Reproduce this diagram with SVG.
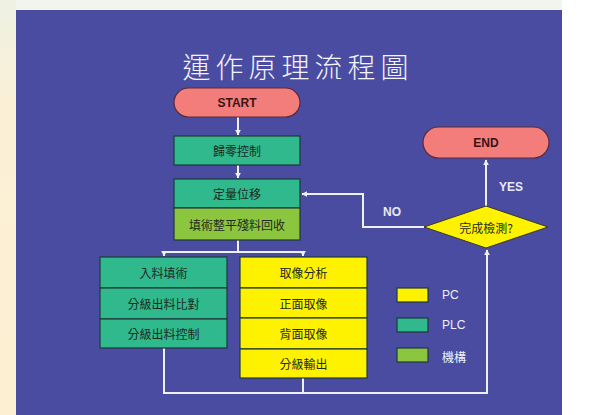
<svg xmlns="http://www.w3.org/2000/svg" width="602" height="415" viewBox="0 0 602 415">
<defs>
<linearGradient id="lg" x1="0" y1="0" x2="0" y2="1">
<stop offset="0" stop-color="#eef2e4"/>
<stop offset="0.25" stop-color="#fbf0d6"/>
<stop offset="1" stop-color="#fdefd2"/>
</linearGradient>
<linearGradient id="rg" x1="0" y1="0" x2="1" y2="0">
<stop offset="0" stop-color="#f4f8fa"/>
<stop offset="1" stop-color="#ffffff"/>
</linearGradient>
<marker id="ah" viewBox="0 0 10 10" refX="9" refY="5" markerWidth="3" markerHeight="3" orient="auto" markerUnits="strokeWidth">
<path d="M0,0 L10,5 L0,10 z" fill="#eef0f6"/>
</marker>
<style>
.box{stroke:#1e3a3a;stroke-width:1.2}
.g{fill:#2fb98c}
.y{fill:#fff200}
.lg{fill:#8cc63f}
.pill{fill:#f27d7b;stroke:#5a2a3a;stroke-width:1.2}
.cjk{font-family:"Noto Sans CJK TC","Noto Sans CJK SC",sans-serif;font-size:12px;fill:#1e2a1e;text-anchor:middle;dominant-baseline:central}
.lat{font-family:"Liberation Sans",Arial,sans-serif;font-weight:bold;font-size:12px;text-anchor:middle;dominant-baseline:central}
.wt{fill:#e8eaf4}
.ln{fill:none;stroke:#eef0f6;stroke-width:2}
</style>
</defs>
<rect x="0" y="0" width="602" height="415" fill="url(#rg)"/>
<rect x="0" y="0" width="16" height="415" fill="url(#lg)"/>
<rect x="16" y="0" width="546" height="10" fill="#f2f5ee"/>
<rect x="16" y="10" width="546" height="405" fill="#4a4ca2"/>
<text x="298" y="66" font-family="Noto Sans CJK TC,Noto Sans CJK SC,sans-serif" font-size="28" font-weight="300" fill="#f4f4fa" text-anchor="middle" dominant-baseline="central" letter-spacing="5">運作原理流程圖</text>

<g id="connectors">
<line class="ln" x1="238" y1="117" x2="238" y2="135" marker-end="url(#ah)"/>
<line class="ln" x1="238" y1="165" x2="238" y2="178" marker-end="url(#ah)"/>
<polyline class="ln" points="424,227 363,227 363,194 302,194" marker-end="url(#ah)"/>
<line class="ln" x1="486" y1="206" x2="486" y2="160" marker-end="url(#ah)"/>
<polyline class="ln" points="238,240 238,252 164,252 164,256" marker-end="url(#ah)"/>
<polyline class="ln" points="238,252 303,252 303,256" marker-end="url(#ah)"/>
<polyline class="ln" points="164,348 164,393 487,393 487,250" marker-end="url(#ah)"/>
<line class="ln" x1="303" y1="378" x2="303" y2="393"/>
<text class="lat wt" x="392" y="212">NO</text>
<text class="lat wt" x="511" y="187">YES</text>
</g>

<g id="start">
<rect class="pill" x="174" y="88" width="126" height="29" rx="14.5"/>
<text class="lat" x="237" y="102.5" fill="#3a1414">START</text>
</g>
<g id="zero">
<rect class="box g" x="174" y="136" width="126" height="29"/>
<text class="cjk" x="237" y="150.5">歸零控制</text>
</g>
<g id="shift">
<rect class="box g" x="174" y="179" width="126" height="29"/>
<text class="cjk" x="237" y="193.5">定量位移</text>
</g>
<g id="fill">
<rect class="box lg" x="174" y="208" width="126" height="32"/>
<text class="cjk" x="237" y="224">填術整平殘料回收</text>
</g>
<g id="end">
<rect class="pill" x="423" y="127" width="126" height="31" rx="15.5"/>
<text class="lat" x="486" y="142.5" fill="#3a1414">END</text>
</g>
<g id="check">
<polygon points="486,206 548,227 486,248 424,227" fill="#fff200" stroke="#3a3a20" stroke-width="1"/>
<text class="cjk" x="486" y="227">完成檢測?</text>
</g>
<g id="plc-col">
<rect class="box g" x="100" y="257" width="127" height="31"/>
<rect class="box g" x="100" y="288" width="127" height="31"/>
<rect class="box g" x="100" y="319" width="127" height="29"/>
<text class="cjk" x="163.5" y="272.5">入料填術</text>
<text class="cjk" x="163.5" y="303.5">分級出料比對</text>
<text class="cjk" x="163.5" y="333.5">分級出料控制</text>
</g>
<g id="pc-col">
<rect class="box y" x="240" y="257" width="127" height="31"/>
<rect class="box y" x="240" y="288" width="127" height="30"/>
<rect class="box y" x="240" y="318" width="127" height="31"/>
<rect class="box y" x="240" y="349" width="127" height="29"/>
<text class="cjk" x="303.5" y="272.5">取像分析</text>
<text class="cjk" x="303.5" y="303">正面取像</text>
<text class="cjk" x="303.5" y="333.5">背面取像</text>
<text class="cjk" x="303.5" y="363.5">分級輸出</text>
</g>
<g id="legend">
<rect class="box y" x="397" y="288" width="31" height="14"/>
<rect class="box g" x="397" y="318" width="31" height="14"/>
<rect class="box lg" x="397" y="348" width="31" height="14"/>
<text x="442" y="295" font-family="Liberation Sans,Arial,sans-serif" font-size="12" fill="#eef0f8" dominant-baseline="central">PC</text>
<text x="442" y="325" font-family="Liberation Sans,Arial,sans-serif" font-size="12" fill="#eef0f8" dominant-baseline="central">PLC</text>
<text x="442" y="356" font-family="Noto Sans CJK TC,Noto Sans CJK SC,sans-serif" font-size="12" fill="#eef0f8" dominant-baseline="central">機構</text>
</g>
</svg>
